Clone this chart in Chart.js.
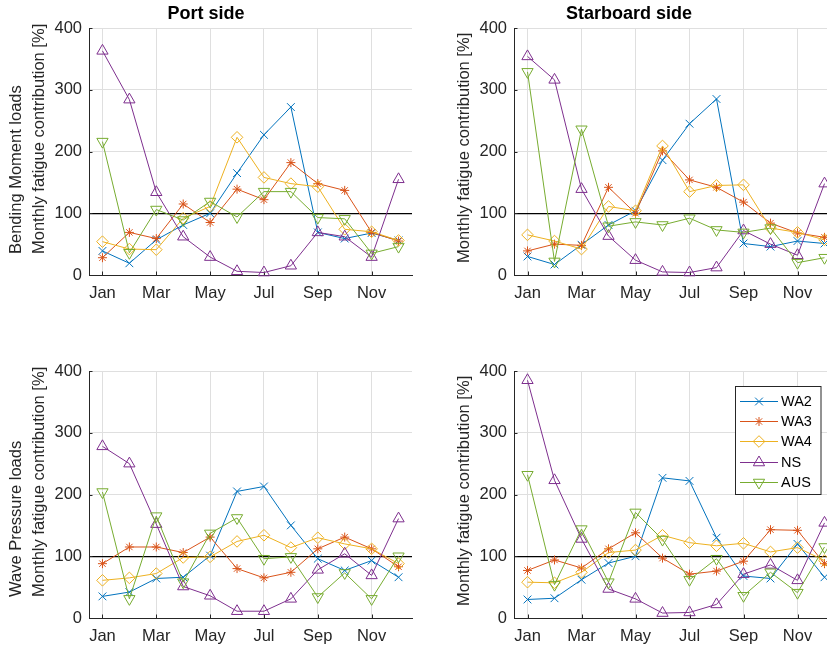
<!DOCTYPE html>
<html>
<head>
<meta charset="utf-8">
<title>Monthly fatigue contribution</title>
<script src="https://cdn.jsdelivr.net/npm/chart.js@4.4.0/dist/chart.umd.min.js"></script>
<style>
  html, body { margin: 0; padding: 0; background: #fff; overflow: hidden; width: 827px; height: 649px; }
  canvas { position: absolute; }
</style>
</head>
<body>
<canvas id="bmPort" width="500" height="320" style="left:0;top:0"></canvas>
<canvas id="bmStbd" width="505" height="320" style="left:420px;top:0"></canvas>
<canvas id="wpPort" width="500" height="329" style="left:0;top:320px"></canvas>
<canvas id="wpStbd" width="505" height="329" style="left:420px;top:320px"></canvas>
<script>
// Months and axis ticks
const months = ['Jan', 'Feb', 'Mar', 'Apr', 'May', 'Jun', 'Jul', 'Aug', 'Sep', 'Oct', 'Nov', 'Dec'];
const monthTicks = [1, 3, 5, 7, 9, 11];
const valueTicks = [0, 100, 200, 300, 400];
const seriesNames = ['WA2', 'WA3', 'WA4', 'NS', 'AUS'];

// Bending moment loads, port side [%]
const bmPortWA2 = [39, 19, 57, 81, 100, 165, 227, 272, 69, 59, 68, 56];
const bmPortWA3 = [28, 69, 59, 115, 85, 139, 122, 182, 148, 137, 69, 55];
const bmPortWA4 = [54, 42, 41, 92, 111, 223, 158, 148, 143, 74, 70, 56];
const bmPortNS  = [363, 284, 134, 62, 29, 6, 4, 15, 69, 62, 29, 155];
const bmPortAUS = [216, 36, 106, 89, 119, 94, 135, 135, 93, 91, 35, 46];

// Bending moment loads, starboard side [%]
const bmStbdWA2 = [30, 17, 49, 81, 104, 186, 245, 285, 51, 46, 55, 51];
const bmStbdWA3 = [39, 50, 48, 142, 100, 201, 154, 142, 118, 84, 68, 61];
const bmStbdWA4 = [65, 55, 42, 111, 104, 209, 135, 145, 146, 76, 69, 57];
const bmStbdNS  = [354, 316, 139, 63, 24, 5, 4, 12, 72, 50, 32, 148];
const bmStbdAUS = [329, 22, 236, 79, 86, 81, 92, 73, 69, 76, 20, 28];

// Wave pressure loads, port side [%]
const wpPortWA2 = [35, 42, 64, 66, 101, 205, 213, 150, 96, 77, 93, 66];
const wpPortWA3 = [88, 115, 115, 106, 131, 80, 65, 74, 112, 131, 112, 83];
const wpPortWA4 = [61, 65, 72, 98, 99, 124, 134, 114, 130, 120, 112, 88];
const wpPortNS  = [278, 250, 152, 51, 36, 11, 11, 31, 78, 104, 69, 161];
const wpPortAUS = [204, 31, 165, 58, 137, 162, 96, 99, 34, 73, 31, 100];

// Wave pressure loads, starboard side [%]
const wpStbdWA2 = [30, 32, 62, 89, 100, 227, 222, 130, 68, 64, 120, 66];
const wpStbdWA3 = [77, 94, 81, 112, 138, 97, 71, 76, 92, 143, 142, 88];
const wpStbdWA4 = [58, 57, 74, 106, 110, 134, 122, 117, 121, 107, 114, 93];
const wpStbdNS  = [385, 223, 128, 47, 31, 8, 9, 22, 71, 86, 61, 154];
const wpStbdAUS = [232, 54, 144, 58, 171, 127, 62, 96, 36, 74, 41, 115];

// Line colours and markers per series
const seriesStyles = [
  { color: '#0072BD', pointStyle: 'crossRot', radius: 5.5, rotation: 0 },
  { color: '#D95319', pointStyle: 'star',     radius: 4.5, rotation: 0 },
  { color: '#EDB120', pointStyle: 'rectRot',  radius: 5.8, rotation: 0 },
  { color: '#7E2F8E', pointStyle: 'triangle', radius: 6.5, rotation: 0 },
  { color: '#77AC30', pointStyle: 'triangle', radius: 6.5, rotation: 180 }
];

const FONT = '"Liberation Sans", Arial, Helvetica, sans-serif';
const AXIS_COLOR = '#262626';
const GRID_COLOR = '#dfdfdf';
Chart.defaults.font.family = FONT;

const panels = [
  { id: 'bmPort', title: 'Port side',
    caption: ['Bending Moment loads', 'Monthly fatigue contribution [%]'], captionX: [16, 39], captionDrop: 21,
    yWidth: 89, xHeight: 45, padTop: 0, padRight: 88,
    series: [bmPortWA2, bmPortWA3, bmPortWA4, bmPortNS, bmPortAUS] },
  { id: 'bmStbd', title: 'Starboard side',
    caption: ['Monthly fatigue contribution [%]'], captionX: [44], captionDrop: 12,
    yWidth: 94, xHeight: 45, padTop: 0, padRight: 87,
    series: [bmStbdWA2, bmStbdWA3, bmStbdWA4, bmStbdNS, bmStbdAUS] },
  { id: 'wpPort', title: null,
    caption: ['Wave Pressure loads', 'Monthly fatigue contribution [%]'], captionX: [16, 39], captionDrop: 21,
    yWidth: 89, xHeight: 31, padTop: 51, padRight: 88,
    series: [wpPortWA2, wpPortWA3, wpPortWA4, wpPortNS, wpPortAUS] },
  { id: 'wpStbd', title: null,
    caption: ['Monthly fatigue contribution [%]'], captionX: [44], captionDrop: 12,
    yWidth: 94, xHeight: 31, padTop: 51, padRight: 87, legend: true,
    series: [wpStbdWA2, wpStbdWA3, wpStbdWA4, wpStbdNS, wpStbdAUS] }
];

function makeDecor(p) {
  return {
    id: 'panelDecor',
    // inward tick marks on both axes
    beforeDatasetsDraw(chart) {
      const { ctx, chartArea: a, scales } = chart;
      ctx.save();
      ctx.strokeStyle = AXIS_COLOR;
      ctx.lineWidth = 1;
      ctx.beginPath();
      monthTicks.forEach(v => {
        const px = Math.round(scales.x.getPixelForValue(v)) + 0.5;
        ctx.moveTo(px, a.bottom);
        ctx.lineTo(px, a.bottom - 3.5);
      });
      valueTicks.forEach(v => {
        const py = Math.round(scales.y.getPixelForValue(v)) + 0.5;
        ctx.moveTo(a.left, py);
        ctx.lineTo(a.left + 3.5, py);
      });
      ctx.stroke();
      ctx.restore();
    },
    afterDraw(chart) {
      const { ctx, chartArea: a } = chart;
      // rotated y-axis caption lines
      ctx.save();
      ctx.fillStyle = AXIS_COLOR;
      ctx.font = '16.5px ' + FONT;
      ctx.textAlign = 'left';
      ctx.textBaseline = 'middle';
      p.caption.forEach((line, j) => {
        ctx.save();
        ctx.translate(p.captionX[j], a.bottom - p.captionDrop);
        ctx.rotate(-Math.PI / 2);
        ctx.fillText(line, 0, 0);
        ctx.restore();
      });
      ctx.restore();

      if (!p.legend) return;
      // legend box with line + marker samples
      const bw = 85.5, bh = 108;
      const bx = a.right - 17 - bw, by = a.top + 15.5;
      ctx.save();
      ctx.fillStyle = '#fff';
      ctx.fillRect(bx, by, bw, bh);
      ctx.strokeStyle = AXIS_COLOR;
      ctx.lineWidth = 1;
      ctx.strokeRect(bx, by, bw, bh);
      seriesNames.forEach((name, i) => {
        const st = seriesStyles[i];
        const cy = Math.round(by + 14.5 + 20.2 * i) + 0.5;
        ctx.strokeStyle = st.color;
        ctx.lineWidth = 1;
        ctx.beginPath();
        ctx.moveTo(bx + 4.5, cy);
        ctx.lineTo(bx + 42.5, cy);
        ctx.stroke();
        ctx.fillStyle = 'rgba(0,0,0,0)';
        Chart.helpers.drawPoint(ctx, { pointStyle: st.pointStyle, rotation: st.rotation, radius: st.radius, borderWidth: 1 }, bx + 23.5, cy);
        ctx.fillStyle = '#000';
        ctx.font = '14.5px ' + FONT;
        ctx.textAlign = 'left';
        ctx.textBaseline = 'middle';
        ctx.fillText(name, bx + 45.5, cy);
      });
      ctx.restore();
    }
  };
}

panels.forEach(p => {
  const datasets = p.series.map((values, i) => {
    const st = seriesStyles[i];
    return {
      label: seriesNames[i],
      data: values.map((v, k) => ({ x: k + 1, y: v })),
      borderColor: st.color,
      borderWidth: 1,
      backgroundColor: 'rgba(0,0,0,0)',
      pointStyle: st.pointStyle,
      pointRadius: st.radius,
      pointRotation: st.rotation,
      pointBorderColor: st.color,
      pointBackgroundColor: 'rgba(0,0,0,0)',
      pointBorderWidth: 1,
      tension: 0,
      fill: false,
      clip: false,
      order: seriesNames.length - 1 - i
    };
  });

  new Chart(document.getElementById(p.id), {
    type: 'line',
    data: { datasets },
    options: {
      responsive: false,
      animation: false,
      devicePixelRatio: 1,
      layout: { padding: { left: 0, top: p.padTop, right: p.padRight, bottom: 0 } },
      plugins: {
        legend: { display: false },
        tooltip: { enabled: false },
        title: {
          display: !!p.title,
          text: p.title || '',
          color: '#000',
          font: { family: FONT, size: 18, weight: 'bold', lineHeight: 1.2 },
          padding: { top: 3, bottom: 3.4 }
        }
      },
      scales: {
        x: {
          type: 'linear',
          min: 0.5,
          max: 12.5,
          afterBuildTicks: s => { s.ticks = monthTicks.map(v => ({ value: v })); },
          afterFit: s => { s.height = p.xHeight; },
          ticks: {
            callback: v => months[v - 1],
            color: AXIS_COLOR,
            font: { family: FONT, size: 16.5 },
            padding: 9,
            maxRotation: 0,
            autoSkip: false
          },
          grid: { color: GRID_COLOR, lineWidth: 1, drawTicks: false },
          border: { color: AXIS_COLOR, width: 1 }
        },
        y: {
          min: 0,
          max: 400,
          afterBuildTicks: s => { s.ticks = valueTicks.map(v => ({ value: v })); },
          afterFit: s => { s.width = p.yWidth; },
          ticks: {
            color: AXIS_COLOR,
            font: { family: FONT, size: 16.5 },
            padding: 7
          },
          grid: {
            color: c => (c.tick && c.tick.value === 100 ? '#000' : GRID_COLOR),
            lineWidth: c => (c.tick && c.tick.value === 100 ? 1.3 : 1),
            drawTicks: false
          },
          border: { color: AXIS_COLOR, width: 1 }
        }
      }
    },
    plugins: [makeDecor(p)]
  });
});
</script>
</body>
</html>
